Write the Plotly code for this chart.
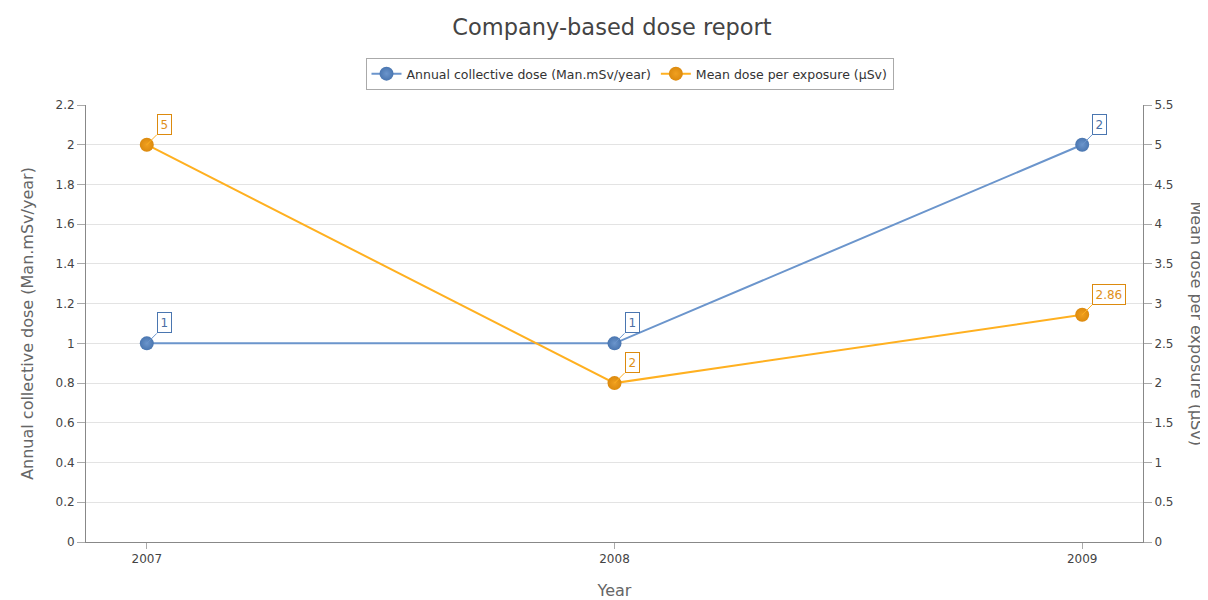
import plotly.graph_objects as go

years = ["2007", "2008", "2009"]
collective_dose = [1, 1, 2]
mean_dose = [5, 2, 2.86]
collective_labels = ["1", "1", "2"]
mean_labels = ["5", "2", "2.86"]
left_ticks = [0, 0.2, 0.4, 0.6, 0.8, 1, 1.2, 1.4, 1.6, 1.8, 2, 2.2]
right_ticks = [0, 0.5, 1, 1.5, 2, 2.5, 3, 3.5, 4, 4.5, 5, 5.5]

FONT = "DejaVu Sans"
BLUE_LINE = "#6b95cc"
BLUE_MARK = "#4a76b0"
BLUE_TXT = "#4a6fa5"
OR_LINE = "#ffb020"
OR_MARK = "#dc8a0e"
OR_TXT = "#e0901a"

# page body has an 8px default margin; figure sized to fit the window
W, H = 1200, 592
OFF = 8
L, T = 86 - OFF, 105 - OFF
R = W - (1143 - OFF)
B = H - (542 - OFF)
PW = W - L - R
PH = H - T - B

xs = list(range(len(years)))

fig = go.Figure()
fig.add_trace(go.Scatter(
    x=xs, y=collective_dose, name="Annual collective dose (Man.mSv/year)",
    mode="lines+markers", line=dict(color=BLUE_LINE, width=2),
    marker=dict(size=14, color=BLUE_MARK, line=dict(width=0),
                gradient=dict(type="radial", color="#6b95cc")),
    yaxis="y"))
fig.add_trace(go.Scatter(
    x=xs, y=mean_dose, name="Mean dose per exposure (µSv)",
    mode="lines+markers", line=dict(color=OR_LINE, width=2),
    marker=dict(size=14, color=OR_MARK, line=dict(width=0),
                gradient=dict(type="radial", color="#f0a020")),
    yaxis="y2"))

anns = []
for x, y, t in zip(xs, collective_dose, collective_labels):
    anns.append(dict(x=x, y=y, xref="x", yref="y", text=t, showarrow=True,
                     arrowhead=0, arrowwidth=1, arrowcolor=BLUE_LINE, ax=10, ay=-10,
                     xanchor="left", yanchor="bottom", bordercolor=BLUE_MARK,
                     borderwidth=1, borderpad=2.5, bgcolor="white",
                     font=dict(family=FONT, size=12, color=BLUE_TXT)))
for x, y, t in zip(xs, mean_dose, mean_labels):
    anns.append(dict(x=x, y=y, xref="x", yref="y2", text=t, showarrow=True,
                     arrowhead=0, arrowwidth=1, arrowcolor=OR_LINE, ax=10, ay=-10,
                     xanchor="left", yanchor="bottom", bordercolor=OR_MARK,
                     borderwidth=1, borderpad=2.5, bgcolor="white",
                     font=dict(family=FONT, size=12, color=OR_TXT)))
anns.append(dict(x=(1196 - OFF - L) / PW, y=0.5, xref="paper", yref="paper",
                 text="Mean dose per exposure (µSv)",
                 showarrow=False, textangle=90, xanchor="center", yanchor="middle",
                 font=dict(family=FONT, size=16, color="#666")))

fig.update_layout(
    width=W, height=H,
    margin=dict(l=L, r=R, t=T, b=B, autoexpand=False),
    paper_bgcolor="white", plot_bgcolor="white",
    font=dict(family=FONT, size=12, color="#444"),
    title=dict(text="Company-based dose report", x=(612 - OFF) / W, xanchor="center",
               y=1 - (27 - OFF) / H, yanchor="middle",
               font=dict(family=FONT, size=22.5, color="#444")),
    showlegend=True,
    legend=dict(orientation="h", x=(629.5 - OFF - L) / PW, xanchor="center",
                y=1 + 47 / PH, yanchor="top", bordercolor="#aaa", borderwidth=1,
                font=dict(family=FONT, size=12.5, color="#333"),
                itemwidth=30, tracegroupgap=0),
    xaxis=dict(tickmode="array", tickvals=xs, ticktext=years, range=[-0.13, 2.13],
               showgrid=False, zeroline=False, showline=True, linecolor="#888", linewidth=1,
               ticks="outside", ticklen=6, tickcolor="#aaa",
               title=dict(text="Year", font=dict(family=FONT, size=16, color="#666"), standoff=19),
               tickfont=dict(family=FONT, size=12, color="#444")),
    yaxis=dict(range=[0, 2.2], tickmode="array", tickvals=left_ticks,
               ticktext=[f"{v:g}" for v in left_ticks],
               showgrid=True, gridcolor="#e3e3e3", zeroline=False, showline=True,
               linecolor="#888", linewidth=1, ticks="outside", ticklen=8, tickcolor="#aaa",
               title=dict(text="Annual collective dose (Man.mSv/year)",
                          font=dict(family=FONT, size=16, color="#666"), standoff=17),
               tickfont=dict(family=FONT, size=12, color="#444")),
    yaxis2=dict(range=[0, 5.5], overlaying="y", side="right", tickmode="array",
                tickvals=right_ticks, ticktext=[f"{v:g}" for v in right_ticks],
                showgrid=False, zeroline=False, showline=True, linecolor="#888", linewidth=1,
                ticks="outside", ticklen=8, tickcolor="#aaa",
                tickfont=dict(family=FONT, size=12, color="#444")),
    annotations=anns,
)

fig.write_html("out.html")
